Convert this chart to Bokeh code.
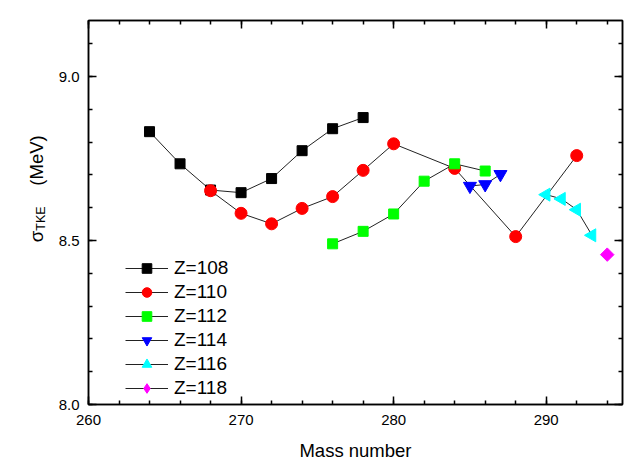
import math
from bokeh.plotting import figure
from bokeh.layouts import row
from bokeh.core.properties import value
from bokeh.models import (Range1d, LinearAxis, SingleIntervalTicker, Legend, LegendItem,
                          CustomJSTickFormatter, PrintfTickFormatter)
from bokeh.embed import file_html
from bokeh.resources import INLINE

# ---- data ----
z108_a = [264, 266, 268, 270, 272, 274, 276, 278]
z108_s = [8.832, 8.734, 8.654, 8.646, 8.689, 8.774, 8.841, 8.875]
z110_a = [268, 270, 272, 274, 276, 278, 280, 284, 288, 292]
z110_s = [8.652, 8.583, 8.551, 8.598, 8.634, 8.714, 8.795, 8.720, 8.512, 8.759]
z112_a = [276, 278, 280, 282, 284, 286]
z112_s = [8.490, 8.528, 8.581, 8.681, 8.734, 8.712]
z114_a = [285, 286, 287]
z114_s = [8.666, 8.671, 8.702]
z116_a = [290, 291, 292, 293]
z116_s = [8.640, 8.627, 8.594, 8.516]
z118_a = [294]
z118_s = [8.457]
labels = ["Z=108", "Z=110", "Z=112", "Z=114", "Z=116", "Z=118"]
x_title = "Mass number"
y_title = ["σ", "TKE", "(MeV)"]

FONT = "Liberation Sans"
LW = 48   # width of the strip that holds the y title
H = 460

p = figure(frame_width=534, frame_height=384,
           x_range=Range1d(260, 295), y_range=Range1d(8.0, 9.171),
           output_backend="svg", toolbar_location=None,
           min_border_left=88 - LW, min_border_right=8, min_border_top=20, min_border_bottom=56)
p.grid.visible = False
p.outline_line_color = "black"
p.outline_line_width = 1.5
p.background_fill_color = "white"
p.border_fill_color = "white"

xt = SingleIntervalTicker(interval=10, num_minor_ticks=5)
yt = SingleIntervalTicker(interval=0.5, num_minor_ticks=5)


def style(ax):
    ax.axis_line_width = 1.5
    ax.axis_line_color = "black"
    ax.major_tick_in = 8
    ax.major_tick_out = 0
    ax.minor_tick_in = 4
    ax.minor_tick_out = 0
    ax.major_tick_line_width = 1.5
    ax.minor_tick_line_width = 1.5
    ax.major_label_text_font = FONT
    ax.major_label_text_font_size = "15px"
    ax.major_label_text_color = "black"
    ax.axis_label_text_font = FONT
    ax.axis_label_text_font_style = "normal"
    ax.axis_label_text_color = "black"


p.xaxis.ticker = xt
p.yaxis.ticker = yt
p.yaxis.formatter = PrintfTickFormatter(format="%.1f")
style(p.xaxis[0])
style(p.yaxis[0])
p.xaxis.axis_label = x_title
p.xaxis.axis_label_text_font_size = "18.5px"
p.xaxis.major_label_standoff = 10
p.xaxis.axis_label_standoff = 12
p.yaxis.major_label_standoff = 9

blank = CustomJSTickFormatter(code="return ''")
top = LinearAxis(ticker=xt, formatter=blank, major_label_standoff=0)
right = LinearAxis(ticker=yt, formatter=blank, major_label_standoff=0)
style(top)
style(right)
p.add_layout(top, "above")
p.add_layout(right, "right")

# (x, y, marker in plot, colour, size, angle, marker for the legend key)
series = [
    (z108_a, z108_s, "square", "#000000", 10, 0.0, None),
    (z110_a, z110_s, "circle", "#ff0000", 12, 0.0, None),
    (z112_a, z112_s, "square", "#00ff00", 10, 0.0, None),
    (z114_a, z114_s, "inverted_triangle", "#0000ff", 13, 0.0, None),
    (z116_a, z116_s, "triangle", "#00ffff", 13, math.pi / 2, None),
    (z118_a, z118_s, "square", "#ff00ff", 9.5, math.pi / 4, "diamond"),
]

items = []
for (a, s, mk, col, sz, ang, legmk), lab in zip(series, labels):
    ln = p.line(a, s, line_color="#222222", line_width=1)
    sc = p.scatter(a, s, marker=mk, size=sz, angle=ang,
                   fill_color=col, line_color=col)
    rends = [ln, sc]
    if legmk is not None:
        key = p.scatter(a, s, marker=legmk, size=sz, fill_color=col, line_color=col,
                        visible=False)
        rends = [ln, key]
    items.append(LegendItem(label=lab, renderers=rends))

legend = Legend(items=items, location=(37, 4), orientation="vertical",
                glyph_width=43, glyph_height=24, label_height=24, spacing=0,
                padding=0, margin=0, label_standoff=6, click_policy="none",
                label_text_font=FONT, label_text_font_size="19px",
                label_text_color="black", label_text_baseline="middle",
                background_fill_alpha=0, border_line_alpha=0)
p.add_layout(legend, "center")

# ---- y title strip: sigma_TKE (MeV), rotated canvas text ----
q = figure(frame_width=LW, frame_height=H, x_range=Range1d(0, LW), y_range=Range1d(0, H),
           x_axis_location=None, y_axis_location=None,
           output_backend="svg", toolbar_location=None, min_border=0)
q.title.visible = False
q.grid.visible = False
q.outline_line_color = None
q.background_fill_color = "white"
q.border_fill_color = "white"

common = dict(angle=math.pi / 2, text_align="center", text_baseline="middle",
              text_font=value(FONT), text_color="black")
q.text(x=[36], y=[H - 216], text=[y_title[0]], text_font_size="18.5px", **common)
q.text(x=[40], y=[H - 198], text=[y_title[1]], text_font_size="12.5px", **common)
q.text(x=[36], y=[H - 140], text=[y_title[2]], text_font_size="18.5px", **common)

layout = row(q, p, spacing=0)
open("out.html", "w").write(file_html(layout, INLINE))
